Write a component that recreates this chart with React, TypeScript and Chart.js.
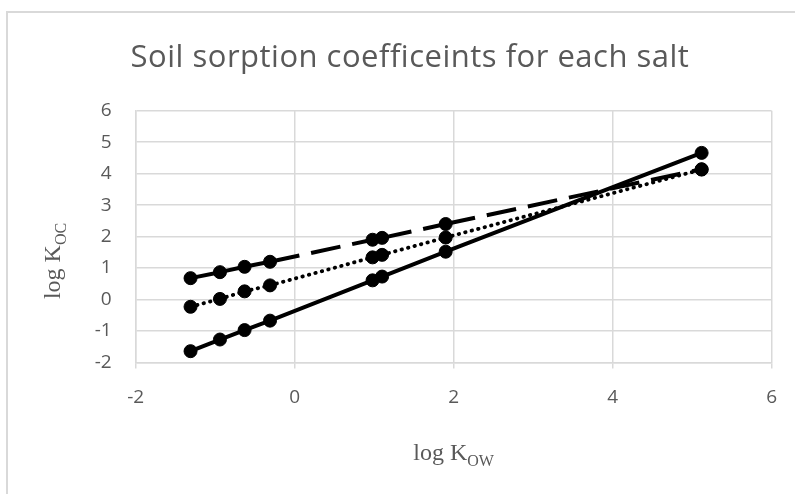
import React, { useEffect, useRef } from "react";
import { Chart, registerables } from "chart.js";

Chart.register(...registerables);

// ---- data ----
const titleText = "Soil sorption coefficeints for each salt";
const logKow = [-1.31, -0.94, -0.63, -0.31, 0.98, 1.1, 1.9, 5.12];
const seriesSolid = [-1.64, -1.27, -0.97, -0.67, 0.61, 0.73, 1.52, 4.66];
const seriesDashed = [0.68, 0.87, 1.04, 1.2, 1.9, 1.96, 2.4, 4.14];
const seriesDotted = [-0.23, 0.02, 0.26, 0.45, 1.34, 1.42, 1.97, 4.13];
const seriesNames = ["Series1", "Series2", "Series3"];
const xTickValues = [-2, 0, 2, 4, 6];
const yTickValues = [-2, -1, 0, 1, 2, 3, 4, 5, 6];

const GRID = "#d9d9d9";
const TEXT = "#595959";

const toPoints = (ys: number[]) => logKow.map((x, i) => ({ x, y: ys[i] }));

// restart the dash pattern on every segment (like Excel)
const perSegment = {
  borderDashOffset: (ctx: any) => ctx.p0DataIndex * 0.00001,
};

const decorPlugin = {
  id: "decor",
  beforeDraw(chart: any) {
    const { ctx, width, height } = chart;
    ctx.save();
    ctx.fillStyle = "#ffffff";
    ctx.fillRect(0, 0, width, height);
    ctx.strokeStyle = GRID;
    ctx.lineWidth = 2;
    ctx.beginPath();
    ctx.moveTo(7, height + 2);
    ctx.lineTo(7, 12);
    ctx.lineTo(width + 2, 12);
    ctx.stroke();
    ctx.restore();
  },
  afterDraw(chart: any) {
    const { ctx, chartArea } = chart;
    ctx.save();
    // title
    ctx.fillStyle = TEXT;
    ctx.font = "31px 'Open Sans'";
    try {
      (ctx as any).letterSpacing = "0.5px";
    } catch (e) {}
    ctx.textAlign = "center";
    ctx.textBaseline = "alphabetic";
    ctx.fillText(titleText, 410, 67);
    try {
      (ctx as any).letterSpacing = "0px";
    } catch (e) {}

    // x axis title: log K_OW
    const main = "log K";
    const mainFont = "24px 'Liberation Serif'";
    const subFont = "16px 'Liberation Serif'";
    ctx.textAlign = "left";
    ctx.font = mainFont;
    const wMain = ctx.measureText(main).width;
    ctx.font = subFont;
    const wSubX = ctx.measureText("OW").width;
    const cx = (chartArea.left + chartArea.right) / 2;
    const sx = cx - (wMain + wSubX) / 2;
    ctx.font = mainFont;
    ctx.fillText(main, sx, 460);
    ctx.font = subFont;
    ctx.fillText("OW", sx + wMain, 466);

    // y axis title: log K_OC (rotated)
    const wSubY = ctx.measureText("OC").width;
    ctx.translate(60, 261);
    ctx.rotate(-Math.PI / 2);
    const sy = -(wMain + wSubY) / 2;
    ctx.font = mainFont;
    ctx.fillText(main, sy, 0);
    ctx.font = subFont;
    ctx.fillText("OC", sy + wMain, 6);
    ctx.restore();
  },
};

export default function App() {
  const ref = useRef<HTMLCanvasElement | null>(null);

  useEffect(() => {
    if (!ref.current) return;
    const lineCommon = {
      showLine: true,
      borderColor: "#000000",
      backgroundColor: "#000000",
      pointBackgroundColor: "#000000",
      pointBorderColor: "#000000",
      pointRadius: 6.5,
      pointBorderWidth: 1,
      borderWidth: 4,
      tension: 0,
    };
    const chart = new Chart(ref.current, {
      type: "scatter",
      data: {
        datasets: [
          {
            ...lineCommon,
            label: seriesNames[0],
            data: toPoints(seriesSolid),
          },
          {
            ...lineCommon,
            label: seriesNames[1],
            data: toPoints(seriesDashed),
            borderDash: [30, 12],
            segment: perSegment,
          },
          {
            ...lineCommon,
            label: seriesNames[2],
            data: toPoints(seriesDotted),
            borderDash: [0.5, 6.2],
            borderCapStyle: "round",
            borderWidth: 3.8,
            segment: perSegment,
          },
        ],
      } as any,
      plugins: [decorPlugin],
      options: {
        animation: false,
        responsive: true,
        maintainAspectRatio: false,
        layout: { padding: { left: 0, top: 110.7, right: 22, bottom: 0 } },
        plugins: {
          legend: { display: false },
          title: { display: false },
          tooltip: { enabled: false },
        },
        scales: {
          x: {
            type: "linear",
            min: -2,
            max: 6,
            afterBuildTicks: (scale: any) => {
              scale.ticks = xTickValues.map((v) => ({ value: v }));
            },
            afterFit: (scale: any) => {
              scale.height = 494 - 362.5;
            },
            grid: {
              color: GRID,
              lineWidth: 1.5,
              drawTicks: true,
              tickLength: 6,
              tickColor: GRID,
            },
            border: { color: GRID, width: 1.5 },
            ticks: {
              color: TEXT,
              font: { family: "'Open Sans'", size: 19 },
              padding: 18,
              maxRotation: 0,
            },
          },
          y: {
            type: "linear",
            min: -2,
            max: 6,
            afterBuildTicks: (scale: any) => {
              scale.ticks = yTickValues.map((v) => ({ value: v }));
            },
            afterFit: (scale: any) => {
              scale.width = 135.7;
            },
            grid: {
              color: GRID,
              lineWidth: 1.5,
              drawTicks: false,
            },
            border: { color: GRID, width: 1.5 },
            ticks: {
              color: TEXT,
              font: { family: "'Open Sans'", size: 19 },
              padding: 24,
            },
          },
        },
      } as any,
    });
    return () => chart.destroy();
  }, []);

  return (
    <div
      style={{
        position: "absolute",
        left: 0,
        top: 0,
        width: 795,
        height: 494,
        overflow: "hidden",
      }}
    >
      <canvas ref={ref} />
    </div>
  );
}
